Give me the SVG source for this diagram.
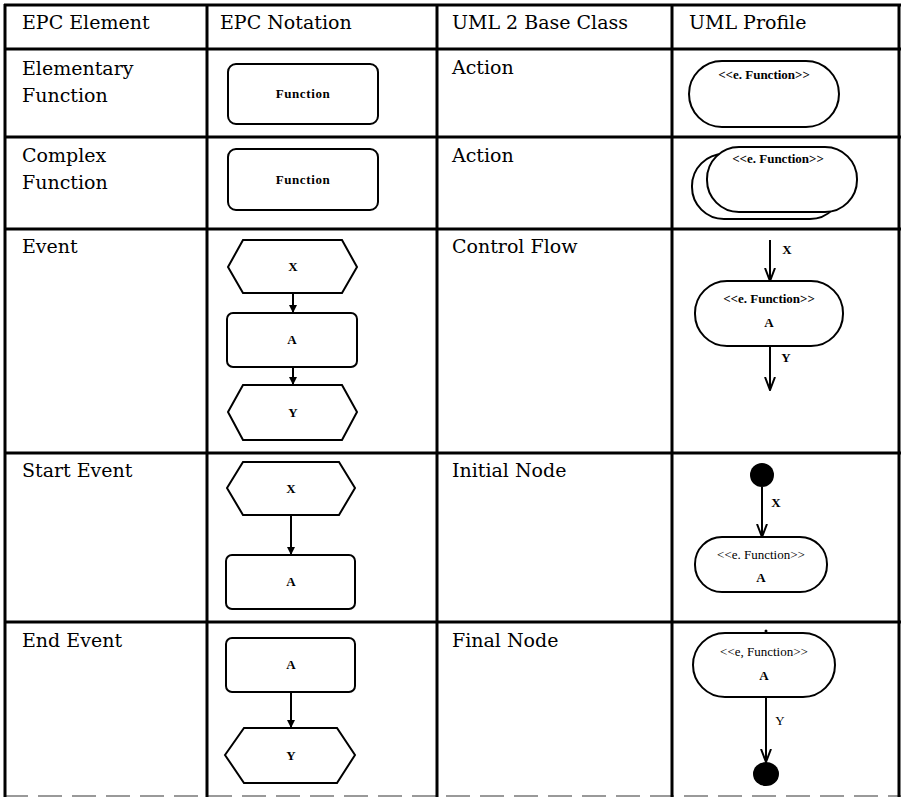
<svg xmlns="http://www.w3.org/2000/svg" width="904" height="798" viewBox="0 0 904 798">
<style>
.grid{stroke:#000;stroke-width:3;fill:none}
.cell{font-family:"DejaVu Serif","Liberation Serif",serif;font-size:19px;fill:#000}
.shape{fill:#fff;stroke:#000;stroke-width:2}
.lbl{font-family:"Liberation Serif","DejaVu Serif",serif;font-size:13px;font-weight:bold;fill:#000;text-anchor:middle}
.ster{font-family:"Liberation Serif","DejaVu Serif",serif;font-size:13px;fill:#000;text-anchor:middle}
.conn{stroke:#000;stroke-width:2;fill:none}
</style>
<defs>
<marker id="tri" viewBox="0 0 10 10" refX="10" refY="5" markerWidth="8" markerHeight="8" markerUnits="userSpaceOnUse" orient="auto">
<path d="M0,0 L10,5 L0,10 Z" fill="#000"/>
</marker>
<marker id="vee" viewBox="0 0 14 12" refX="13" refY="6" markerWidth="14" markerHeight="12" markerUnits="userSpaceOnUse" orient="auto">
<path d="M0,1 L13,6 L0,11" fill="none" stroke="#000" stroke-width="2"/>
</marker>
</defs>
<rect width="904" height="798" fill="#fff"/>
<g id="table">
<line class="grid" x1="4" y1="5" x2="901" y2="5"/>
<line class="grid" x1="4" y1="49" x2="901" y2="49"/>
<line class="grid" x1="4" y1="137" x2="901" y2="137"/>
<line class="grid" x1="4" y1="229" x2="901" y2="229"/>
<line class="grid" x1="4" y1="453" x2="901" y2="453"/>
<line class="grid" x1="4" y1="622" x2="901" y2="622"/>
<line x1="4" y1="796" x2="901" y2="796" stroke="#999" stroke-width="2" stroke-dasharray="24,10"/>
<line class="grid" x1="5" y1="4" x2="5" y2="797"/>
<line class="grid" x1="207" y1="4" x2="207" y2="797"/>
<line class="grid" x1="437" y1="4" x2="437" y2="797"/>
<line class="grid" x1="672" y1="4" x2="672" y2="797"/>
<line class="grid" x1="899" y1="4" x2="899" y2="797"/>
</g>
<g id="texts">
<text class="cell" x="22" y="29">EPC Element</text>
<text class="cell" x="220" y="29">EPC Notation</text>
<text class="cell" x="452" y="29">UML 2 Base Class</text>
<text class="cell" x="689" y="29">UML Profile</text>
<text class="cell" x="22" y="75">Elementary</text>
<text class="cell" x="22" y="102">Function</text>
<text class="cell" x="452" y="74">Action</text>
<text class="cell" x="22" y="162">Complex</text>
<text class="cell" x="22" y="189">Function</text>
<text class="cell" x="452" y="162">Action</text>
<text class="cell" x="22" y="253">Event</text>
<text class="cell" x="452" y="253">Control Flow</text>
<text class="cell" x="22" y="477">Start Event</text>
<text class="cell" x="452" y="477">Initial Node</text>
<text class="cell" x="22" y="647">End Event</text>
<text class="cell" x="452" y="647">Final Node</text>
</g>
<g id="epc-elementary">
<rect class="shape" x="228" y="64" width="150" height="60" rx="8"/>
<text class="lbl" x="303" y="98" letter-spacing="0.6">Function</text>
</g>
<g id="uml-elementary">
<rect class="shape" x="689" y="61" width="150" height="66" rx="33"/>
<text class="lbl" x="764" y="79">&lt;&lt;e. Function&gt;&gt;</text>
</g>
<g id="epc-complex">
<rect class="shape" x="228" y="149" width="150" height="61" rx="8"/>
<text class="lbl" x="303" y="184" letter-spacing="0.6">Function</text>
</g>
<g id="uml-complex">
<rect class="shape" x="692" y="154" width="150" height="65" rx="32"/>
<rect class="shape" x="707" y="147" width="150" height="65" rx="32"/>
<text class="lbl" x="778" y="163">&lt;&lt;e. Function&gt;&gt;</text>
</g>
<g id="epc-event-x">
<polygon class="shape" points="228,267 243,240 342,240 357,267 342,293 243,293"/>
<text class="lbl" x="293" y="271">X</text>
</g>
<g id="epc-event-a">
<rect class="shape" x="227" y="313" width="130" height="54" rx="6"/>
<text class="lbl" x="292" y="344">A</text>
</g>
<g id="epc-event-y">
<polygon class="shape" points="228,412 243,385 342,385 357,412 342,440 243,440"/>
<text class="lbl" x="293" y="417">Y</text>
</g>
<g id="uml-event-a">
<rect class="shape" x="695" y="281" width="148" height="65" rx="32"/>
<text class="lbl" x="769" y="303">&lt;&lt;e. Function&gt;&gt;</text>
<text class="lbl" x="769" y="327">A</text>
</g>
<g id="epc-start-x">
<polygon class="shape" points="227,488 243,462 339,462 355,488 339,515 243,515"/>
<text class="lbl" x="291" y="493">X</text>
</g>
<g id="epc-start-a">
<rect class="shape" x="226" y="555" width="129" height="54" rx="6"/>
<text class="lbl" x="291" y="586">A</text>
</g>
<g id="uml-start-initial">
<circle cx="762" cy="475" r="12" fill="#000"/>
</g>
<g id="uml-start-a">
<rect class="shape" x="695" y="537" width="132" height="55" rx="27"/>
<text class="ster" x="761" y="559">&lt;&lt;e. Function&gt;&gt;</text>
<text class="lbl" x="761" y="582">A</text>
</g>
<g id="epc-end-a">
<rect class="shape" x="226" y="638" width="129" height="54" rx="6"/>
<text class="lbl" x="291" y="669">A</text>
</g>
<g id="epc-end-y">
<polygon class="shape" points="225,755 244,728 337,728 355,755 337,783 244,783"/>
<text class="lbl" x="291" y="760">Y</text>
</g>
<g id="uml-end-a">
<circle cx="766" cy="631" r="1.5" fill="#000"/>
<rect class="shape" x="693" y="633" width="142" height="64" rx="32"/>
<text class="ster" x="764" y="656">&lt;&lt;e, Function&gt;&gt;</text>
<text class="lbl" x="764" y="680">A</text>
</g>
<g id="uml-end-final">
<ellipse cx="766" cy="774" rx="13" ry="12" fill="#000"/>
</g>
<g id="connectors">
<line class="conn" x1="293" y1="293" x2="293" y2="313" marker-end="url(#tri)"/>
<line class="conn" x1="293" y1="367" x2="293" y2="385" marker-end="url(#tri)"/>
<line class="conn" x1="770" y1="240" x2="770" y2="281" marker-end="url(#vee)"/>
<text class="lbl" x="787" y="254">X</text>
<line class="conn" x1="770" y1="346" x2="770" y2="390" marker-end="url(#vee)"/>
<text class="lbl" x="786" y="362">Y</text>
<line class="conn" x1="291" y1="515" x2="291" y2="555" marker-end="url(#tri)"/>
<line class="conn" x1="762" y1="487" x2="762" y2="537" marker-end="url(#vee)"/>
<text class="lbl" x="776" y="507">X</text>
<line class="conn" x1="291" y1="692" x2="291" y2="728" marker-end="url(#tri)"/>
<line class="conn" x1="766" y1="697" x2="766" y2="762" marker-end="url(#vee)"/>
<text class="ster" x="780" y="725">Y</text>
</g>
</svg>
